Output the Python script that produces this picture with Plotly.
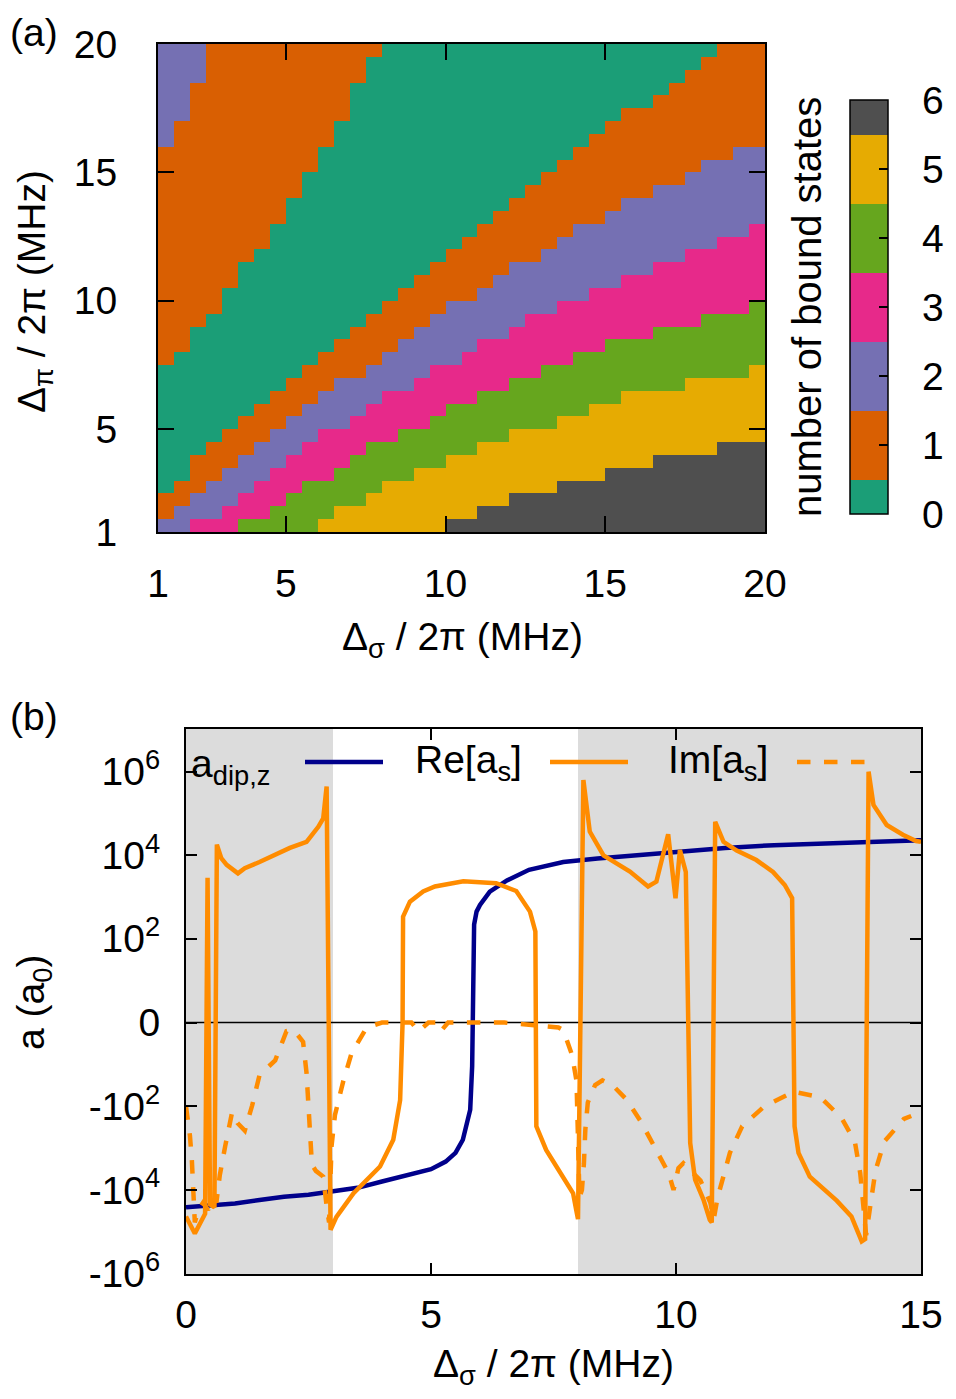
import math
import plotly.graph_objects as go

# the page adds an 8 px body margin, so the figure is 8 px smaller than the window
WIN_W, WIN_H, OFF = 956, 1399, 8
W, H = WIN_W - 2 * OFF, WIN_H - 2 * OFF
FONT = "Liberation Sans, Arial, sans-serif"
FS = 39

# ---------------- panel (a): number of bound states ----------------
# grid: 38 x 38 cells of 0.5 MHz, cell centres
d_sigma = [1.25 + 0.5 * k for k in range(38)]
d_pi = [1.25 + 0.5 * k for k in range(38)]

# for every row (bottom -> top) the first column where each region starts
# region order from top-left to bottom-right: 2,1,0,1,2,3,4,5,6
start_b1 = [0, 0, 0, 0, 0, 0, 0, 0, 0, 0, 0, 0, 0, 0, 0, 0, 0, 0, 0, 0,
            0, 0, 0, 0, 0, 0, 0, 0, 0, 0, 1, 1, 2, 2, 2, 3, 3, 3]
start_b2 = [0, 0, 0, 0, 0, 0, 0, 0, 0, 0, 0, 0, 0, 1, 2, 2, 3, 4, 4, 5,
            5, 6, 7, 7, 8, 8, 9, 9, 10, 10, 11, 11, 12, 12, 12, 13, 13, 14]
start_b3 = [0, 0, 0, 1, 2, 2, 3, 4, 5, 6, 7, 8, 9, 10, 11, 12, 13, 14, 15, 16,
            17, 18, 19, 20, 21, 22, 23, 24, 25, 26, 27, 28, 29, 31, 32, 33, 34, 35]
start_b4 = [0, 1, 2, 3, 4, 5, 6, 7, 8, 9, 10, 11, 13, 14, 15, 16, 17, 18, 20, 21,
            22, 24, 25, 26, 28, 29, 31, 33, 34, 36, 38, 38, 38, 38, 38, 38, 38, 38]
start_b5 = [2, 4, 5, 6, 7, 8, 9, 10, 12, 13, 14, 16, 17, 19, 20, 22, 23, 25, 27, 29,
            31, 33, 35, 37, 38, 38, 38, 38, 38, 38, 38, 38, 38, 38, 38, 38, 38, 38]
start_b6 = [5, 7, 8, 9, 11, 12, 13, 15, 17, 18, 20, 22, 24, 26, 28, 31, 34, 37, 38, 38,
            38, 38, 38, 38, 38, 38, 38, 38, 38, 38, 38, 38, 38, 38, 38, 38, 38, 38]
start_b7 = [10, 11, 13, 14, 16, 18, 20, 22, 25, 27, 29, 33, 37, 38, 38, 38, 38, 38, 38, 38,
            38, 38, 38, 38, 38, 38, 38, 38, 38, 38, 38, 38, 38, 38, 38, 38, 38, 38]
start_b8 = [18, 20, 22, 25, 28, 31, 35, 38, 38, 38, 38, 38, 38, 38, 38, 38, 38, 38, 38, 38,
            38, 38, 38, 38, 38, 38, 38, 38, 38, 38, 38, 38, 38, 38, 38, 38, 38, 38]
region_values = [2, 1, 0, 1, 2, 3, 4, 5, 6]

state_levels = [0, 1, 2, 3, 4, 5, 6]
state_colors = ["#1b9e77", "#d95f02", "#7570b3", "#e7298a",
                "#66a61e", "#e6ab02", "#4f4f4f"]

bounds = [start_b1, start_b2, start_b3, start_b4,
          start_b5, start_b6, start_b7, start_b8]
z = []
for r in range(len(d_pi)):
    row = []
    for c in range(len(d_sigma)):
        n = sum(1 for b in bounds if b[r] <= c)
        row.append(region_values[n])
    z.append(row)

# discrete colour bands centred on the integers 0..6
cscale = []
for k, col in enumerate(state_colors):
    lo = max(k - 0.5, 0) / 6
    hi = min(k + 0.5, 6) / 6
    cscale += [[lo, col], [hi, col]]

# ---------------- panel (b): scattering lengths ----------------
adip_x = [0, 0.5, 1, 1.5, 2, 2.5, 3, 3.5, 4, 4.5, 5, 5.3, 5.5, 5.65, 5.75, 5.8,
          5.84, 5.85, 5.86, 5.88, 5.93, 6.0, 6.2, 6.55, 7.0, 7.7, 8.4, 9.0,
          9.7, 10, 11, 12, 13, 14, 15]
adip_y = [-2.6e4, -2.4e4, -2.1e4, -1.75e4, -1.45e4, -1.3e4, -1.1e4, -8.9e3,
          -6.3e3, -4.6e3, -3.2e3, -2.1e3, -1.3e3, -630, -240, -120,
          -10, 0, 10, 220, 450, 650, 1.35e3, 2.5e3, 4.5e3, 6.9e3, 8.4e3, 9.6e3,
          1.1e4, 1.25e4, 1.5e4, 1.75e4, 1.95e4, 2.1e4, 2.3e4]

re_x = [0, 0.18, 0.39, 0.44, 0.49, 0.58, 0.63, 0.72, 0.83, 1.06, 1.2, 1.5,
        2.12, 2.46, 2.7, 2.8, 2.87, 2.95, 3.07, 3.42, 3.96, 4.23, 4.37, 4.42,
        4.43, 4.57, 4.84, 5.08, 5.66, 6.33, 6.74, 7.02, 7.13, 7.14, 7.15, 7.35,
        7.7, 7.9, 7.97, 8.0, 8.11, 8.24, 8.52, 9.06, 9.43, 9.6, 9.84, 9.99,
        10.08, 10.2, 10.25, 10.29, 10.39, 10.56, 10.69, 10.73, 10.8, 10.97,
        11.24, 11.64, 11.98, 12.22, 12.37, 12.4, 12.42, 12.5, 12.73, 13.28,
        13.58, 13.79, 13.86, 13.93, 14.03, 14.3, 14.63, 14.9, 15.0]
re_y = [-4.3e4, -1.1e5, -3.7e4, 2.9e3, -2.2e4, -2.6e4, 1.8e4, 8.5e3, 5.9e3,
        3.7e3, 4.9e3, 6.9e3, 1.5e4, 2.1e4, 4.8e4, 7.6e4, 4.4e5, -9e4, -4.4e4,
        -1.2e4, -2.75e3, -630, -70, 0, 340, 780, 1.37e3, 1.8e3, 2.4e3, 2.15e3,
        1.4e3, 450, 150, 0, -300, -1.1e3, -4.8e3, -1.2e4, -3.3e4, -5e4, 6.3e5,
        3.7e4, 1e4, 4.1e3, 1.8e3, 2.35e3, 3.2e4, 940, 1.34e4, 4e3, 0, -760,
        -5.7e3, -1.7e4, -5.2e4, -6e4, 6.3e4, 2.1e4, 1.3e4, 7.7e3, 4e3, 1.95e3,
        950, 0, -300, -1.3e3, -4.8e3, -1.8e4, -4.3e4, -1.7e5, -1.5e5, 1e6,
        1.6e5, 5.3e4, 3.1e4, 2.2e4, 2.1e4]

im_x = [0, 0.08, 0.12, 0.15, 0.18, 0.25, 0.35, 0.45, 0.55, 0.62, 0.69, 0.8,
        0.94, 1.05, 1.2, 1.35, 1.5, 1.82, 2.05, 2.2, 2.39, 2.46, 2.5, 2.57,
        2.65, 2.8, 2.87, 2.92, 2.97, 3.04, 3.21, 3.38, 3.69, 4.0, 4.6, 4.75,
        4.95, 5.1, 5.2, 5.35, 6.5, 7.6, 7.7, 7.88, 7.97, 8.03, 8.08, 8.12, 8.15,
        8.2, 8.35, 8.5, 8.7, 9.0, 9.3, 9.6, 9.85, 9.95, 10.05, 10.15, 10.3,
        10.5, 10.7, 10.77, 10.85, 10.94, 11.1, 11.35, 11.8, 12.4, 12.95, 13.38,
        13.65, 13.76, 13.88, 13.97, 14.07, 14.25, 14.65, 14.8]
im_y = [-100, -500, -2e3, -1.2e4, -6e4, -3e4, -2e4, -3e4, -1.5e4, -2e4,
        -4.4e3, -900, -140, -250, -380, -95, -17, -7, -0.6, -0.5, -1.9, -15,
        -150, -2.5e3, -3.5e3, -4.8e3, -2.4e4, -6e4, -900, -160, -24, -4.3,
        -0.3, 0, 0, -0.6, 0, 0, -0.6, 0, 0, -0.3, -0.5, -5, -24, -1.5e4, -1e4,
        -2.4e3, -360, -80, -30, -23, -30, -70, -250, -1.1e3, -4e3, -1e4, -3e3,
        -2.3e3, -3.5e3, -6e3, -2e4, -5e4, -1.5e4, -6e3, -1.3e3, -300, -100,
        -44, -60, -190, -700, -4e3, -1.2e5, -2.2e4, -3.5e3, -700, -200, -170]

shaded = [(0, 3), (8, 15)]
ytick_vals = [1e6, 1e4, 1e2, 0, -1e2, -1e4, -1e6]
ytick_text = ["10<sup>6</sup>", "10<sup>4</sup>", "10<sup>2</sup>", "0",
              "-10<sup>2</sup>", "-10<sup>4</sup>", "-10<sup>6</sup>"]


def symlog(a):
    # one axis unit = two decades, 0 stays at 0
    return math.copysign(math.log10(1 + abs(a)) / 2, a)


# window pixel -> paper fraction
def px(x):
    return (x - OFF) / W


def py(y):
    return 1 - (y - OFF) / H


BLUE = "#00008b"
ORANGE = "#ff8c00"

# colour box geometry (window pixels)
CB_LEFT, CB_W, CB_TOP, CB_BOT = 850, 38, 100, 514

fig = go.Figure()

fig.add_trace(go.Heatmap(
    x=d_sigma, y=d_pi, z=z, xaxis="x", yaxis="y",
    zmin=0, zmax=6, colorscale=cscale,
    colorbar=dict(x=px(CB_LEFT), xanchor="left", xpad=0,
                  y=py((CB_TOP + CB_BOT) / 2), yanchor="middle",
                  len=(CB_BOT - CB_TOP) / H, lenmode="fraction", ypad=0,
                  thickness=CB_W, outlinewidth=1.5, outlinecolor="black",
                  tickvals=state_levels, ticks="inside", ticklen=9,
                  tickcolor="black", tickwidth=1.5, showticklabels=False),
))

fig.add_trace(go.Scatter(x=adip_x, y=[symlog(v) for v in adip_y], xaxis="x2", yaxis="y2",
                         mode="lines", line=dict(color=BLUE, width=4.5), showlegend=False))
fig.add_trace(go.Scatter(x=re_x, y=[symlog(v) for v in re_y], xaxis="x2", yaxis="y2",
                         mode="lines", line=dict(color=ORANGE, width=4.5), showlegend=False))
fig.add_trace(go.Scatter(x=im_x, y=[symlog(v) for v in im_y], xaxis="x2", yaxis="y2",
                         mode="lines", line=dict(color=ORANGE, width=4.5, dash="dash"),
                         showlegend=False))

axis_common = dict(showline=True, linecolor="black", linewidth=2, mirror="ticks",
                   ticks="inside", tickcolor="black", tickwidth=1.5, showgrid=False,
                   zeroline=False, automargin=False,
                   tickfont=dict(family=FONT, size=FS, color="black"))

shapes = []
for a, b in shaded:
    shapes.append(dict(type="rect", xref="x2", yref="y2 domain", x0=a, x1=b, y0=0, y1=1,
                       fillcolor="#dcdcdc", line=dict(width=0), layer="below"))
shapes.append(dict(type="line", xref="x2 domain", yref="y2", x0=0, x1=1, y0=0, y1=0,
                   line=dict(color="black", width=1.5), layer="below"))
# legend samples
shapes.append(dict(type="line", xref="paper", yref="paper", x0=px(305), x1=px(383),
                   y0=py(762), y1=py(762), line=dict(color=BLUE, width=4.5)))
shapes.append(dict(type="line", xref="paper", yref="paper", x0=px(550), x1=px(628),
                   y0=py(762), y1=py(762), line=dict(color=ORANGE, width=4.5)))
shapes.append(dict(type="line", xref="paper", yref="paper", x0=px(797), x1=px(868),
                   y0=py(762), y1=py(762), line=dict(color=ORANGE, width=4.5, dash="dash")))


def label(text, x, y, angle=0, anchor="center", size=FS):
    return dict(text=text, x=px(x), y=py(y), xref="paper", yref="paper",
                xanchor=anchor, yanchor="middle", showarrow=False, textangle=angle,
                font=dict(family=FONT, size=size, color="black"))


annotations = [
    label("(a)", 8, 32, anchor="left"),
    label("(b)", 8, 716, anchor="left"),
    label("Δ<sub>π</sub> / 2π (MHz)", 35, 292, angle=-90),
    label("Δ<sub>σ</sub> / 2π (MHz)", 462, 640),
    label("number of bound states", 807, 307, angle=-90, size=40),
    label("a (a<sub>0</sub>)", 34, 1003, angle=-90),
    label("Δ<sub>σ</sub> / 2π (MHz)", 553, 1366),
    label("a<sub>dip,z</sub>", 189, 766, anchor="left"),
    label("Re[a<sub>s</sub>]", 413, 762, anchor="left"),
    label("Im[a<sub>s</sub>]", 666, 762, anchor="left"),
]
# colour box labels
for v in state_levels:
    yv = CB_BOT - (CB_BOT - CB_TOP) * v / 6
    annotations.append(label(str(v), 933, yv))

fig.update_layout(
    width=W, height=H, margin=dict(l=0, r=0, t=0, b=0),
    paper_bgcolor="white", plot_bgcolor="rgba(0,0,0,0)",
    font=dict(family=FONT, size=FS, color="black"),
    showlegend=False,
    xaxis=dict(domain=[px(158), px(765)], range=[1, 20], anchor="y",
               tickvals=[1, 5, 10, 15, 20], ticklen=16, ticklabelstandoff=16, **axis_common),
    yaxis=dict(domain=[py(532), py(44)], range=[1, 20], anchor="x",
               tickvals=[1, 5, 10, 15, 20], ticklen=16, ticklabelstandoff=31, **axis_common),
    xaxis2=dict(domain=[px(186), px(921)], range=[0, 15], anchor="y2",
                tickvals=[0, 5, 10, 15], ticklen=11, ticklabelstandoff=5, **axis_common),
    yaxis2=dict(domain=[py(1274), py(729)], range=[-3.005, 3.51], anchor="x2",
                tickvals=[symlog(v) for v in ytick_vals], ticktext=ytick_text,
                ticklen=11, ticklabelstandoff=16, **axis_common),
    shapes=shapes,
    annotations=annotations,
)

fig.write_html("out.html")
